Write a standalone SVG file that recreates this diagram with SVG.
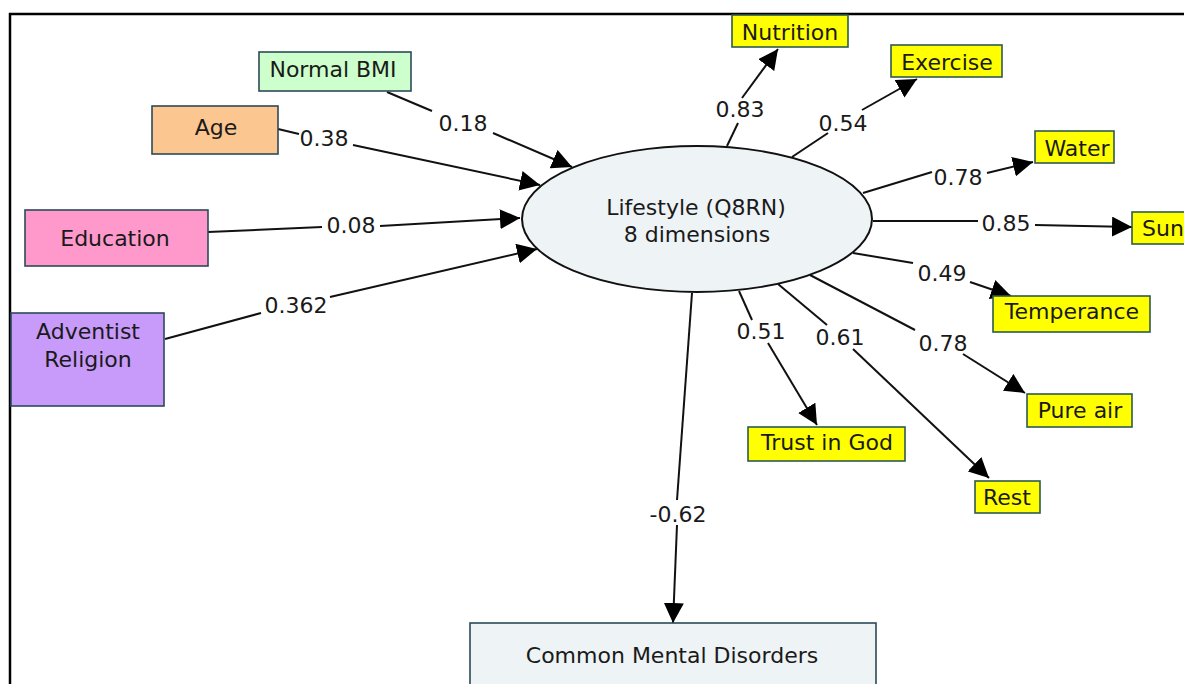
<svg xmlns="http://www.w3.org/2000/svg" width="1184" height="684" viewBox="0 0 1184 684">
<style>
text{font-family:"DejaVu Sans","Verdana",sans-serif;font-size:22px;fill:#1a1a1a;text-anchor:middle}
.box{stroke:#2b4a58;stroke-width:1.6}
.y{fill:#ffff00;stroke:#2d5a4e;stroke-width:1.6}
.ln{fill:none;stroke:#111;stroke-width:2}
.arr{fill:none;stroke:#111;stroke-width:2;marker-end:url(#ah)}
</style>
<defs>
<marker id="ah" markerUnits="userSpaceOnUse" markerWidth="20" markerHeight="20" refX="20" refY="10" orient="auto" viewBox="0 0 20 20">
<path d="M0,0 L20,10 L0,20 z" fill="#000"/>
</marker>
</defs>
<rect x="0" y="0" width="1184" height="684" fill="#fff"/>
<rect x="10" y="14" width="1190" height="690" fill="none" stroke="#000" stroke-width="2.5"/>

<g id="connectors">
<polyline class="ln" points="387,92 432,111"/><polyline class="arr" points="493,133 572,167"/><text x="463" y="131">0.18</text>
<polyline class="ln" points="278,129 299,134"/><polyline class="arr" points="353,145 540,185"/><text x="324" y="146">0.38</text>
<polyline class="ln" points="208,232 322,227"/><polyline class="arr" points="380,226 520,218"/><text x="351" y="233">0.08</text>
<polyline class="ln" points="165,339 261,313"/><polyline class="arr" points="330,297 537,249"/><text x="296" y="313">0.362</text>
<polyline class="ln" points="727,146 738,123"/><polyline class="arr" points="742,98 778,49"/><text x="740" y="117">0.83</text>
<polyline class="ln" points="792,157 828,133"/><polyline class="arr" points="862,110 917,79"/><text x="843" y="131">0.54</text>
<polyline class="ln" points="863,193 932,172"/><polyline class="arr" points="987,173 1033,162"/><text x="958" y="185">0.78</text>
<polyline class="ln" points="873,221 978,221"/><polyline class="arr" points="1035,225 1132,227"/><text x="1006" y="231">0.85</text>
<polyline class="ln" points="853,253 913,263"/><polyline class="arr" points="970,282 1011,296"/><text x="942" y="281">0.49</text>
<polyline class="ln" points="810,275 915,330"/><polyline class="arr" points="963,354 1025,393"/><text x="943" y="351">0.78</text>
<polyline class="ln" points="778,284 827,325"/><polyline class="arr" points="853,349 989,478"/><text x="840" y="345">0.61</text>
<polyline class="ln" points="739,291 752,320"/><polyline class="arr" points="768,343 817,425"/><text x="761" y="339">0.51</text>
<polyline class="ln" points="692,293 677,500"/><polyline class="arr" points="677,525 673,623"/><text x="678" y="522">-0.62</text>
</g>

<g id="lifestyle">
<ellipse cx="697" cy="219" rx="175" ry="73" fill="#eef3f6" stroke="#111" stroke-width="2"/>
<text x="696" y="215">Lifestyle (Q8RN)</text>
<text x="697" y="242">8 dimensions</text>
</g>
<g id="normal-bmi"><rect class="box" x="259" y="52" width="152" height="39" fill="#ccffcc"/><text x="333" y="77">Normal BMI</text></g>
<g id="age"><rect class="box" x="152" y="106" width="126" height="48" fill="#fcc690"/><text x="216" y="135">Age</text></g>
<g id="education"><rect class="box" x="25" y="210" width="183" height="56" fill="#ff99cc"/><text x="115" y="246">Education</text></g>
<g id="adventist"><rect class="box" x="11" y="313" width="153" height="93" fill="#c89bfb"/><text x="88" y="339">Adventist</text><text x="88" y="367">Religion</text></g>
<g id="nutrition"><rect class="y" x="732" y="15" width="116" height="32"/><text x="790" y="40">Nutrition</text></g>
<g id="exercise"><rect class="y" x="891" y="45" width="111" height="32"/><text x="947" y="70">Exercise</text></g>
<g id="water"><rect class="y" x="1035" y="131" width="79" height="32"/><text x="1077" y="156">Water</text></g>
<g id="sun"><rect class="y" x="1132" y="212" width="70" height="32"/><text x="1142" y="236" style="text-anchor:start">Sun</text></g>
<g id="temperance"><rect class="y" x="993" y="296" width="157" height="36"/><text x="1072" y="319">Temperance</text></g>
<g id="pure-air"><rect class="y" x="1027" y="394" width="105" height="33"/><text x="1080" y="418">Pure air</text></g>
<g id="trust-in-god"><rect class="y" x="748" y="427" width="157" height="34"/><text x="827" y="450">Trust in God</text></g>
<g id="rest"><rect class="y" x="975" y="481" width="65" height="32"/><text x="1007" y="505">Rest</text></g>
<g id="cmd"><rect class="box" x="470" y="623" width="406" height="80" fill="#eef3f5" stroke="#333"/><text x="672" y="663">Common Mental Disorders</text></g>
</svg>
